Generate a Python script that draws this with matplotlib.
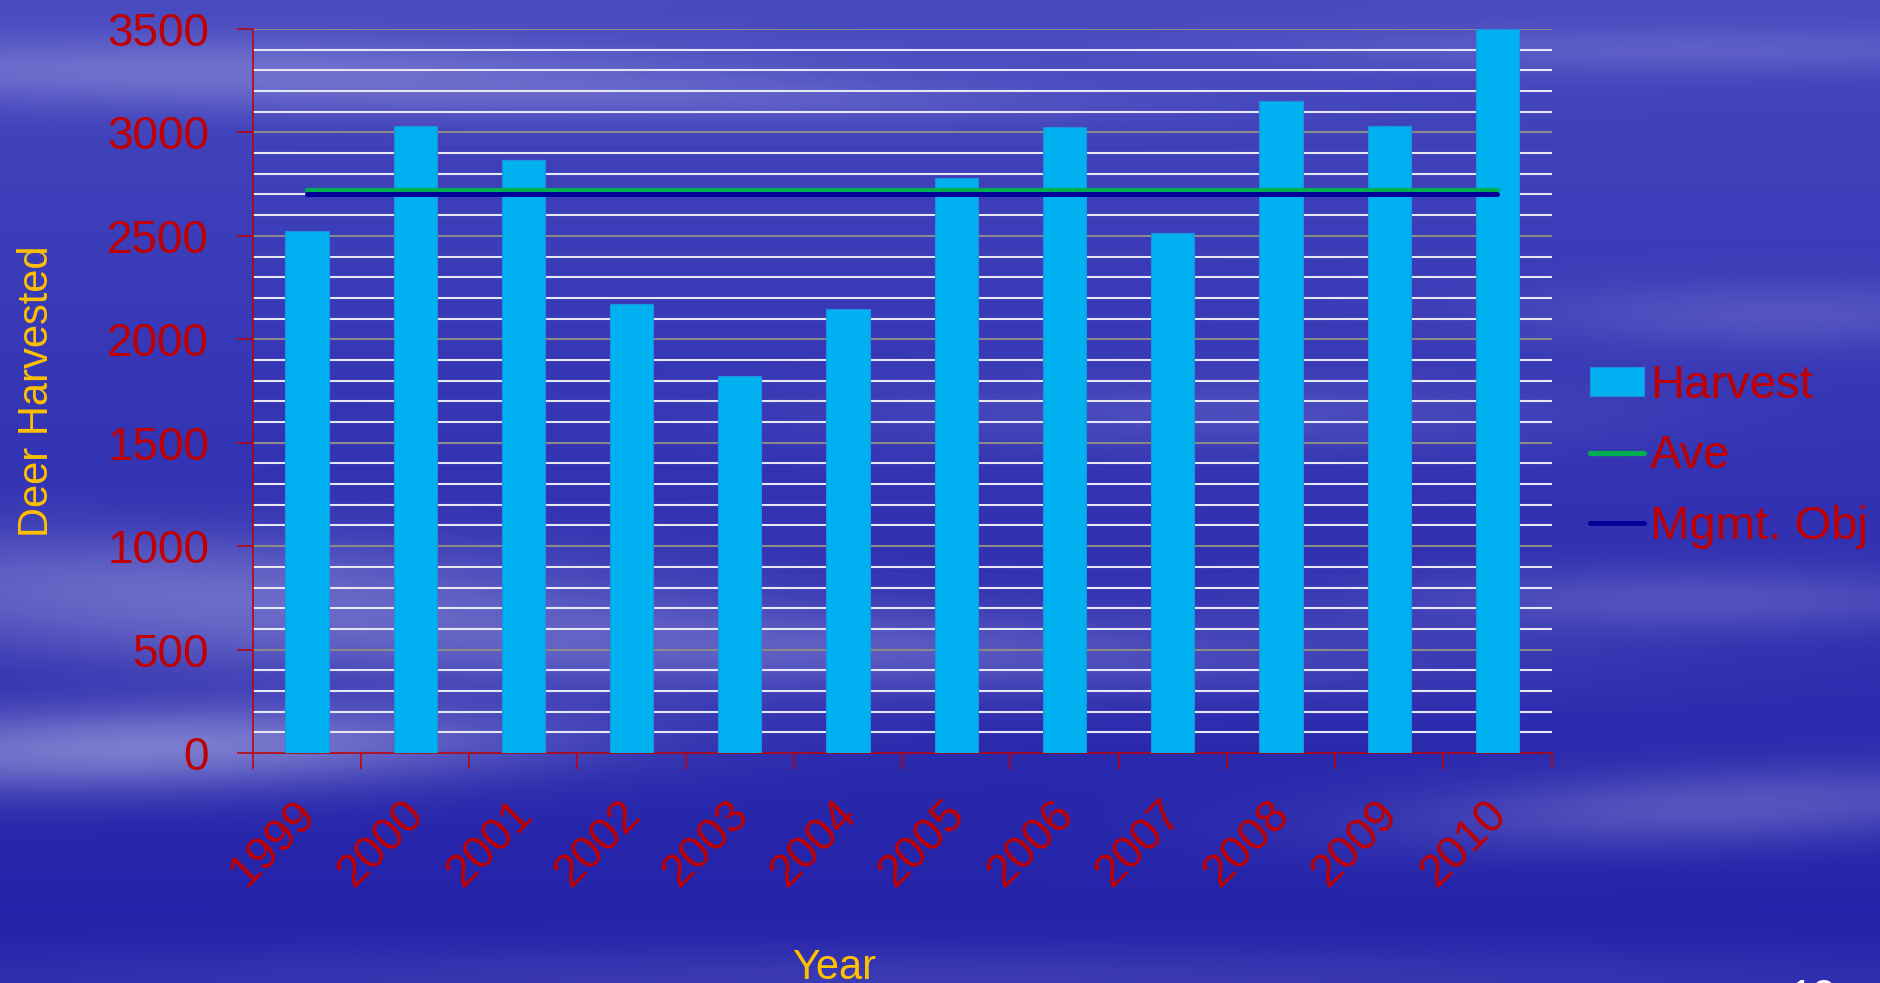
import numpy as np
import matplotlib
matplotlib.use("Agg")
import matplotlib.pyplot as plt
import matplotlib.transforms as mtransforms
from matplotlib.patches import Patch
from matplotlib.lines import Line2D

# == Datos ==
years = ["1999", "2000", "2001", "2002", "2003", "2004",
         "2005", "2006", "2007", "2008", "2009", "2010"]
harvest = [2525, 3030, 2865, 2172, 1824, 2148, 2778, 3025, 2512, 3150, 3032, 3500]
ave = 2720
mgmt_obj = 2700

RED = "#C00000"
GOLD = "#FFC000"
CYAN = "#00B0F0"
GREEN = "#00B050"
NAVY = "#000099"

plt.rcParams["font.family"] = ["Liberation Sans", "DejaVu Sans"]

W, H = 1881, 983
fig = plt.figure(figsize=(W / 100, H / 100), dpi=100)

# == Fondo azul con nubes suaves ==
yy, xx = np.mgrid[0:H, 0:W]
fx, fy = xx / W, yy / H
t = np.clip(fy, 0, 1) ** 0.8
top = np.array([72, 74, 192]) / 255
bottom = np.array([34, 33, 168]) / 255
img = top[None, None, :] * (1 - t[..., None]) + bottom[None, None, :] * t[..., None]

light = np.array([205, 205, 240]) / 255
# (cx, cy, sx, sy, fuerza, inclinacion)
nubes = [
    (0.10, 0.07, 0.30, 0.035, 0.30, 0.00),
    (0.35, 0.10, 0.25, 0.025, 0.18, 0.02),
    (0.90, 0.05, 0.25, 0.025, 0.18, 0.00),
    (0.95, 0.32, 0.15, 0.035, 0.18, 0.00),
    (0.10, 0.60, 0.25, 0.060, 0.35, 0.05),
    (0.40, 0.66, 0.35, 0.045, 0.28, 0.03),
    (0.08, 0.76, 0.22, 0.045, 0.50, -0.05),
    (0.90, 0.61, 0.18, 0.035, 0.22, 0.00),
    (0.92, 0.82, 0.18, 0.040, 0.28, -0.08),
    (0.65, 0.42, 0.20, 0.040, 0.15, 0.00),
    (0.50, 1.00, 0.60, 0.040, 0.15, 0.00),
]
for cx, cy, sx, sy, k, tilt in nubes:
    dy = fy - cy - tilt * (fx - cx)
    a = k * np.exp(-((fx - cx) / sx) ** 2 - (dy / sy) ** 2)
    img = img * (1 - a[..., None]) + light[None, None, :] * a[..., None]

bg = fig.add_axes([0, 0, 1, 1], zorder=-1)
bg.imshow(img, aspect="auto", extent=(0, 1, 0, 1), interpolation="bilinear")
bg.axis("off")

# == Grafico ==
ax_l, ax_r, ax_t, ax_b = 252.8, 1551.6, 29, 753
ax = fig.add_axes([ax_l / W, 1 - ax_b / H, (ax_r - ax_l) / W, (ax_b - ax_t) / H])
ax.set_facecolor("none")

x = np.arange(len(years))
ax.bar(x, harvest, width=0.4, color=CYAN, edgecolor="#1E90E0", linewidth=0.8, zorder=3,
       label="Harvest")
ax.plot([x[0], x[-1]], [ave, ave], color=GREEN, lw=3.8, solid_capstyle="round", zorder=4,
        label="Ave")
ax.plot([x[0], x[-1]], [mgmt_obj, mgmt_obj], color=NAVY, lw=3.6, solid_capstyle="round",
        zorder=5, label="Mgmt. Obj")

ax.set_xlim(-0.5, len(years) - 0.5)
ax.set_ylim(0, 3500)

# Lineas de grilla: menores cada 100 (blancas), mayores cada 500 (grises)
for v in range(100, 3501, 100):
    if v % 500 == 0:
        ax.axhline(v, color="#8A8A8A", lw=1.5, zorder=1)
    else:
        ax.axhline(v, color="#E6E6F5", lw=1.5, zorder=1)

ax.set_yticks(range(0, 3501, 500))
ax.set_yticklabels([str(v) for v in range(0, 3501, 500)])
ax.set_xticks(x)
ax.set_xticklabels(years, rotation=45, ha="right", rotation_mode="default")
ax.set_xticks(np.arange(-0.5, len(years)), minor=True)
ax.tick_params(axis="x", which="major", length=0, pad=28, labelsize=33, labelcolor=RED)
ax.tick_params(axis="x", which="minor", length=11.5, width=1.1, color=RED, direction="out")
ax.tick_params(axis="y", length=11.5, width=1.1, color=RED, pad=20, labelsize=33,
               labelcolor=RED, direction="out")

# Corre las etiquetas de anio un poco a la derecha
desplazamiento = mtransforms.ScaledTranslation(0.18, 0, fig.dpi_scale_trans)
for lbl in ax.get_xticklabels():
    lbl.set_transform(lbl.get_transform() + desplazamiento)

for s in ["top", "right"]:
    ax.spines[s].set_visible(False)
for s in ["left", "bottom"]:
    ax.spines[s].set_color(RED)
    ax.spines[s].set_linewidth(1.1)

# == Titulos de ejes ==
fig.text(37 / W, 1 - 391 / H, "Deer Harvested", color=GOLD, fontsize=30,
         rotation=90, ha="center", va="center")
fig.text(834 / W, 1 - 948 / H, "Year", color=GOLD, fontsize=30, ha="center", va="top")
fig.text(1790 / W, 1 - 978 / H, "12", color="white", fontsize=30, ha="left", va="top")

# == Leyenda ==
handles = [
    Patch(facecolor=CYAN, edgecolor="#1E90E0", linewidth=0.8),
    Line2D([0], [0], color=GREEN, lw=3.8, solid_capstyle="round"),
    Line2D([0], [0], color=NAVY, lw=3.6, solid_capstyle="round"),
]
fig.legend(handles, ["Harvest", "Ave", "Mgmt. Obj"], loc="upper left",
           bbox_to_anchor=(1590 / W, 1 - 364 / H), frameon=False, fontsize=34,
           labelcolor=RED, handlelength=1.15, handleheight=0.55, handletextpad=0.12,
           labelspacing=0.56, borderpad=0, borderaxespad=0)

fig.savefig("out.png", dpi=100)
